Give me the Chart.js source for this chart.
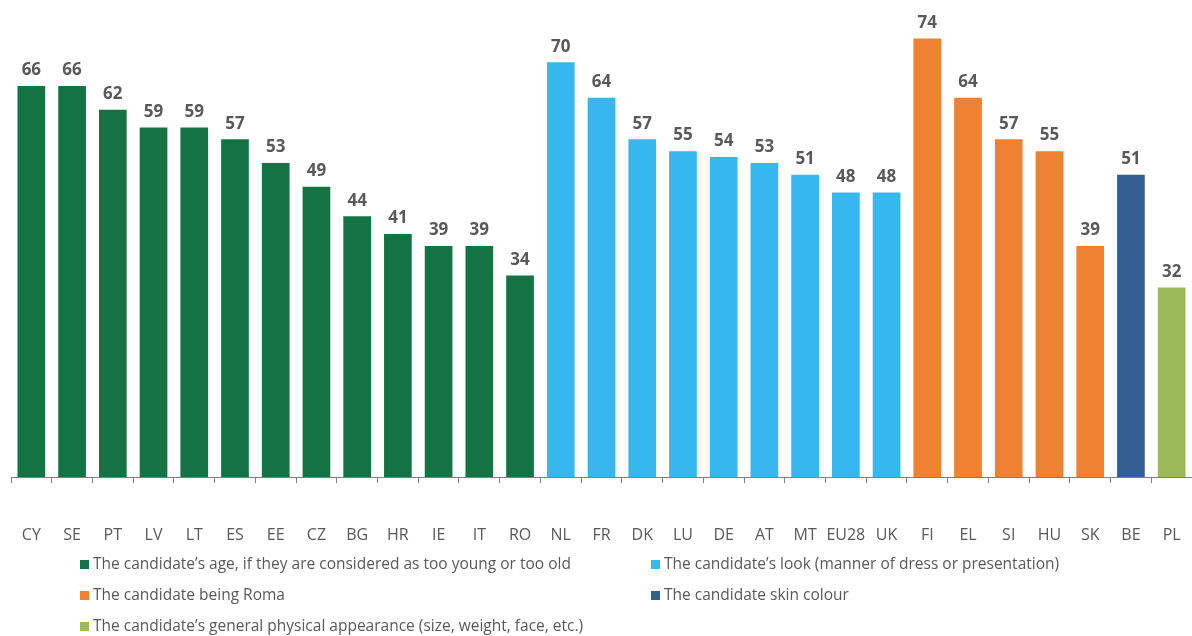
<!DOCTYPE html>
<html>
<head>
<meta charset="utf-8">
<script src="https://cdn.jsdelivr.net/npm/chart.js@4"></script>
<style>
  html, body { margin: 0; padding: 0; background: #fff; }
  #wrap { position: relative; width: 1192px; height: 636px; }
  #legend { position: absolute; left: 0; top: 0; font-family: "Open Sans", sans-serif; font-size: 15.5px; color: #595959; }
  .lg-item { position: absolute; white-space: nowrap; line-height: 18px; }
  .lg-box { display: inline-block; width: 9px; height: 9px; margin-right: 4px; vertical-align: 0px; }
</style>
</head>
<body>
<div id="wrap">
  <canvas id="chart" width="1192" height="636"></canvas>
  <div id="legend"></div>
</div>
<script>
// categories + values
var countries = ['CY', 'SE', 'PT', 'LV', 'LT', 'ES', 'EE', 'CZ', 'BG', 'HR', 'IE', 'IT', 'RO',
                 'NL', 'FR', 'DK', 'LU', 'DE', 'AT', 'MT', 'EU28', 'UK',
                 'FI', 'EL', 'SI', 'HU', 'SK', 'BE', 'PL'];
var values = [66, 66, 62, 59, 59, 57, 53, 49, 44, 41, 39, 39, 34,
              70, 64, 57, 55, 54, 53, 51, 48, 48,
              74, 64, 57, 55, 39, 51, 32];
// which group each country falls into (index into groupNames)
var groupOf = [0, 0, 0, 0, 0, 0, 0, 0, 0, 0, 0, 0, 0,
               1, 1, 1, 1, 1, 1, 1, 1, 1,
               2, 2, 2, 2, 2, 3, 4];
var groupNames = [
  'The candidate\u2019s age, if they  are considered as too young or too old',
  'The candidate\u2019s look (manner  of dress or presentation)',
  'The candidate being Roma',
  'The candidate skin colour',
  'The candidate\u2019s general physical appearance (size, weight, face, etc.)'
];
var groupColors = ['#147343', '#36b7ed', '#ee8132', '#345f92', '#9bbb58'];

var barColors = [];
for (var i = 0; i < groupOf.length; i++) barColors.push(groupColors[groupOf[i]]);

// numbers on top of the bars
var valueLabels = {
  id: 'valueLabels',
  afterDatasetsDraw: function(chart) {
    var ctx = chart.ctx;
    var meta = chart.getDatasetMeta(0);
    ctx.save();
    ctx.font = 'bold 17px "Open Sans", sans-serif';
    ctx.fillStyle = '#595959';
    ctx.textAlign = 'center';
    ctx.textBaseline = 'bottom';
    for (var i = 0; i < meta.data.length; i++) {
      var bar = meta.data[i];
      ctx.fillText(values[i], bar.x, bar.y - 7);
    }
    ctx.restore();
  }
};

var chart = new Chart(document.getElementById('chart'), {
  type: 'bar',
  data: {
    labels: countries,
    datasets: [{
      data: values,
      backgroundColor: barColors,
      borderWidth: 0,
      barPercentage: 0.68,
      categoryPercentage: 1
    }]
  },
  options: {
    responsive: false,
    animation: false,
    layout: { padding: { left: 11, right: 0, top: 3, bottom: 0 } },
    plugins: {
      legend: { display: false },
      tooltip: { enabled: false }
    },
    scales: {
      x: {
        grid: { offset: true, drawOnChartArea: false, drawTicks: true, tickLength: 6, color: '#7f7f7f' },
        border: { display: true, color: '#7f7f7f', width: 1 },
        ticks: {
          color: '#595959', padding: 43, maxRotation: 0, autoSkip: false,
          font: { family: '"Open Sans", sans-serif', size: 16 }
        },
        afterFit: function(scale) {
          scale.height = 159;
          // the big label padding should only push labels down, not in from the sides
          scale.paddingLeft = 0;
          scale.paddingRight = 0;
        }
      },
      y: {
        display: false,
        min: 0,
        max: 80
      }
    }
  },
  plugins: [valueLabels]
});

// legend, two columns like the original
var legendPos = [[80, 563], [651, 563], [80, 594], [651, 594], [80, 625]];
var lg = document.getElementById('legend');
for (var g = 0; g < groupNames.length; g++) {
  var item = document.createElement('div');
  item.className = 'lg-item';
  item.style.left = legendPos[g][0] + 'px';
  item.style.top = (legendPos[g][1] - 9) + 'px';
  item.innerHTML = '<span class="lg-box" style="background:' + groupColors[g] + '"></span>' + groupNames[g];
  lg.appendChild(item);
}
</script>
</body>
</html>
